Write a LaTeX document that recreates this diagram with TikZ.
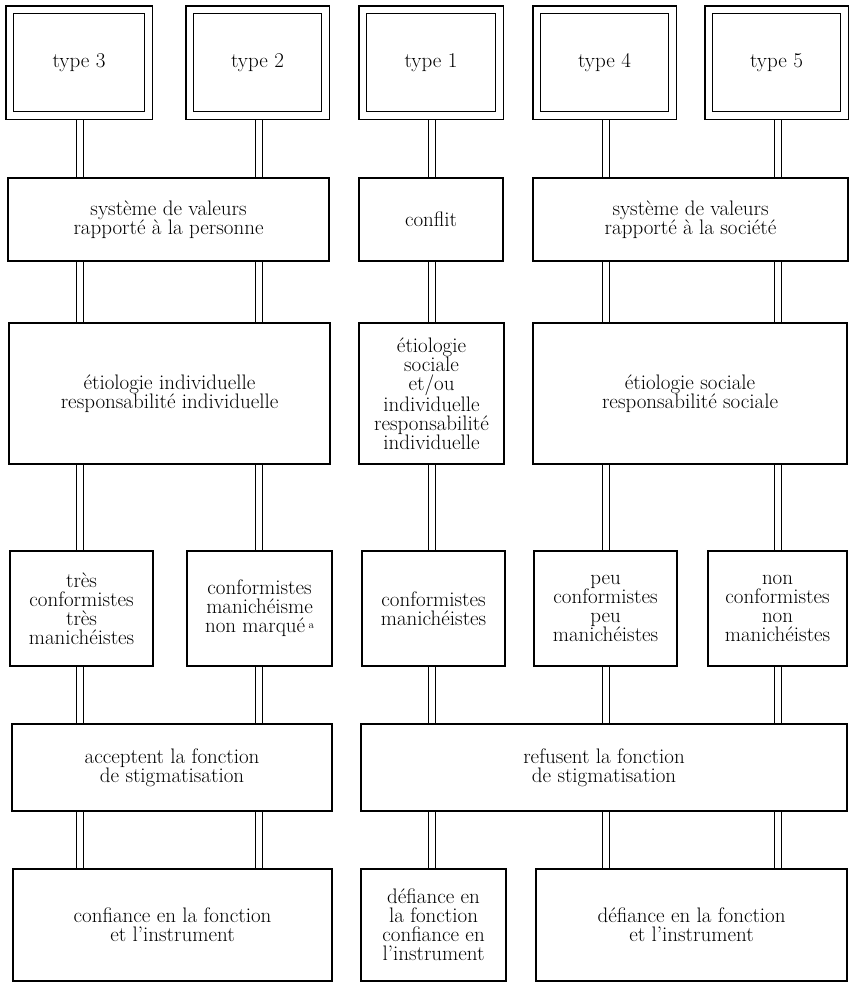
\documentclass[tikz,border=0pt]{standalone}
\usepackage{fontspec}
\usepackage{tikz}
\newcommand{\boxfont}{\fontsize{21}{19}\selectfont\addfontfeature{LetterSpace=4.5,FakeBold=0.6}}
\begin{document}
\begin{tikzpicture}[x=1pt,y=-1pt,
  txt/.style={align=center, font=\boxfont},
  box/.style={txt, draw, line width=1.7pt, inner sep=2pt, anchor=north west},
  typebox/.style={txt, draw, double, line width=1.5pt, double distance=6.2pt, outer sep=4.6pt, inner sep=2pt, anchor=north west, minimum height=105.8pt},
  conn/.style={draw, double, line width=1.2pt, double distance=5.4pt}]
\useasboundingbox (0,0) rectangle (851,985);
% column axes for the connectors
\coordinate (c1) at (80,0);
\coordinate (c2) at (259,0);
\coordinate (c3) at (432,0);
\coordinate (c4) at (606,0);
\coordinate (c5) at (778,0);
% row 1
\node[typebox, minimum width=138.8pt] (t3) at (5,5) {type 3};
\node[typebox, minimum width=135.8pt] (t2) at (185,5) {type 2};
\node[typebox, minimum width=136.8pt] (t1) at (358,5) {type 1};
\node[typebox, minimum width=135.8pt] (t4) at (532,5) {type 4};
\node[typebox, minimum width=135.8pt] (t5) at (704,5) {type 5};
% row 2
\node[box, minimum width=321.4pt, minimum height=83.4pt] (r2a) at (7,177) {système de valeurs\\rapporté à la personne};
\node[box, minimum width=144.4pt, minimum height=83.4pt] (r2b) at (358,177) {conflit};
\node[box, minimum width=315.4pt, minimum height=83.4pt] (r2c) at (532,177) {système de valeurs\\rapporté à la société};
% row 3
\node[box, minimum width=321.4pt, minimum height=141.4pt] (r3a) at (8,322) {étiologie individuelle\\responsabilité individuelle};
\node[box, minimum width=145.4pt, minimum height=141.4pt] (r3b) at (358,322) {étiologie\\sociale\\et/ou\\individuelle\\responsabilité\\individuelle};
\node[box, minimum width=314.4pt, minimum height=141.4pt] (r3c) at (532,322) {étiologie sociale\\responsabilité sociale};
% row 4
\node[box, minimum width=143.4pt, minimum height=115.4pt] (r4a) at (9,550) {très\\conformistes\\très\\manichéistes};
\node[box, minimum width=145.4pt, minimum height=115.4pt] (r4b) at (186,550) {conformistes\\manichéisme\\non marqué\,\raisebox{4pt}{\fontsize{11}{11}\selectfont a}};
\node[box, minimum width=143.4pt, minimum height=115.4pt] (r4c) at (361,550) {conformistes\\manichéistes};
\node[box, minimum width=143.4pt, minimum height=115.4pt] (r4d) at (533,550) {peu\\conformistes\\peu\\manichéistes};
\node[box, minimum width=139.4pt, minimum height=115.4pt] (r4e) at (707,550) {non\\conformistes\\non\\manichéistes};
% row 5
\node[box, minimum width=320.4pt, minimum height=87.4pt] (r5a) at (11,723) {acceptent la fonction\\de stigmatisation};
\node[box, minimum width=486.4pt, minimum height=87.4pt] (r5b) at (360,723) {refusent la fonction\\de stigmatisation};
% row 6
\node[box, minimum width=319.4pt, minimum height=112.4pt] (r6a) at (12,868) {confiance en la fonction\\et l’instrument};
\node[box, minimum width=145.4pt, minimum height=112.4pt] (r6b) at (360,868) {défiance en\\la fonction\\confiance en\\l’instrument};
\node[box, minimum width=311.4pt, minimum height=112.4pt] (r6c) at (535,868) {défiance en la fonction\\et l’instrument};
% connectors row 1 -> row 2
\draw[conn] (t3.south -| c1) -- (r2a.north -| c1);
\draw[conn] (t2.south -| c2) -- (r2a.north -| c2);
\draw[conn] (t1.south -| c3) -- (r2b.north -| c3);
\draw[conn] (t4.south -| c4) -- (r2c.north -| c4);
\draw[conn] (t5.south -| c5) -- (r2c.north -| c5);
% row 2 -> row 3
\draw[conn] (r2a.south -| c1) -- (r3a.north -| c1);
\draw[conn] (r2a.south -| c2) -- (r3a.north -| c2);
\draw[conn] (r2b.south -| c3) -- (r3b.north -| c3);
\draw[conn] (r2c.south -| c4) -- (r3c.north -| c4);
\draw[conn] (r2c.south -| c5) -- (r3c.north -| c5);
% row 3 -> row 4
\draw[conn] (r3a.south -| c1) -- (r4a.north -| c1);
\draw[conn] (r3a.south -| c2) -- (r4b.north -| c2);
\draw[conn] (r3b.south -| c3) -- (r4c.north -| c3);
\draw[conn] (r3c.south -| c4) -- (r4d.north -| c4);
\draw[conn] (r3c.south -| c5) -- (r4e.north -| c5);
% row 4 -> row 5
\draw[conn] (r4a.south -| c1) -- (r5a.north -| c1);
\draw[conn] (r4b.south -| c2) -- (r5a.north -| c2);
\draw[conn] (r4c.south -| c3) -- (r5b.north -| c3);
\draw[conn] (r4d.south -| c4) -- (r5b.north -| c4);
\draw[conn] (r4e.south -| c5) -- (r5b.north -| c5);
% row 5 -> row 6
\draw[conn] (r5a.south -| c1) -- (r6a.north -| c1);
\draw[conn] (r5a.south -| c2) -- (r6a.north -| c2);
\draw[conn] (r5b.south -| c3) -- (r6b.north -| c3);
\draw[conn] (r5b.south -| c4) -- (r6c.north -| c4);
\draw[conn] (r5b.south -| c5) -- (r6c.north -| c5);
\end{tikzpicture}
\end{document}
